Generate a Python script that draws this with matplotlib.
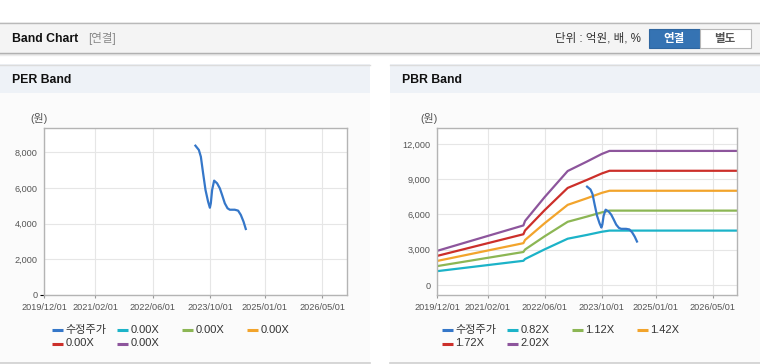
import matplotlib
matplotlib.use('Agg')
import matplotlib.pyplot as plt
import matplotlib.dates as mdates
from matplotlib.patches import Rectangle
import pandas as pd

plt.rcParams['font.family'] = ['Liberation Sans', 'Noto Sans CJK KR', 'DejaVu Sans']

W, H = 760, 364

# adjusted share price (수정주가)
price_dates = ['2023-05-29', '2023-06-27', '2023-07-14', '2023-08-02', '2023-08-22',
               '2023-09-13', '2023-09-28', '2023-10-06', '2023-10-17', '2023-11-03',
               '2023-11-28', '2023-12-21', '2024-01-09', '2024-02-01', '2024-02-24',
               '2024-03-14', '2024-04-25', '2024-05-23', '2024-06-15', '2024-07-08',
               '2024-07-27']
price = [8370, 8130, 7750, 6820, 5890, 5230, 4890, 5140, 5890, 6410,
         6260, 5980, 5610, 5140, 4860, 4780, 4780, 4730, 4490, 4110, 3700]

# PBR band lines
band_dates = ['2019-12-01', '2021-12-03', '2021-12-17', '2022-06-01', '2022-12-15',
              '2023-05-27', '2023-10-01', '2023-12-06', '2026-11-28']
band_082 = [1180, 2060, 2210, 3030, 3940, 4260, 4530, 4630, 4630]
band_112 = [1610, 2810, 3020, 4140, 5380, 5820, 6180, 6330, 6330]
band_142 = [2050, 3560, 3830, 5250, 6820, 7380, 7840, 8020, 8020]
band_172 = [2480, 4320, 4640, 6360, 8260, 8940, 9490, 9720, 9720]
band_202 = [2910, 5070, 5450, 7470, 9700, 10500, 11150, 11410, 11410]

per_labels = ['수정주가', '0.00X', '0.00X', '0.00X', '0.00X', '0.00X']
pbr_labels = ['수정주가', '0.82X', '1.12X', '1.42X', '1.72X', '2.02X']
colors = ['#3577c9', '#1cb3c8', '#8cb654', '#f2a42c', '#cc2f2a', '#8d559c']

x_ticks = ['2019/12/01', '2021/02/01', '2022/06/01', '2023/10/01', '2025/01/01', '2026/05/01']
per_yticks = [0, 2000, 4000, 6000, 8000]
pbr_yticks = [0, 3000, 6000, 9000, 12000]

fig = plt.figure(figsize=(W / 100, H / 100), dpi=100)
bg = fig.add_axes([0, 0, 1, 1])
bg.set_xlim(0, W)
bg.set_ylim(H, 0)
bg.axis('off')


def box(x0, y0, x1, y1, fc, ec='none', lw=0):
    bg.add_patch(Rectangle((x0, y0), x1 - x0, y1 - y0, facecolor=fc, edgecolor=ec, linewidth=lw))


# page header
box(0, 22, W, 53, '#f4f4f4')
bg.plot([0, W], [22.5, 22.5], color='#b9b9b9', lw=1)
bg.plot([0, W], [53, 53], color='#a8a8a8', lw=1)
bg.plot([0, W], [54.2, 54.2], color='#d8d8d8', lw=1)
bg.plot([0, W], [55.3, 55.3], color='#ececec', lw=1)
bg.text(12, 38.5, 'Band Chart', fontsize=8.8, fontweight='bold', color='#111', va='center')
bg.text(88, 38.5, '[연결]', fontsize=8.3, color='#888', va='center')
bg.text(641, 38.5, '단위 : 억원, 배, %', fontsize=8.3, color='#333', va='center', ha='right')
box(648.5, 28.5, 699.5, 47.5, '#3573b3', '#2f66a0', 0.8)
box(699.5, 28.5, 750.5, 47.5, '#ffffff', '#b8b8b8', 0.8)
bg.text(674, 39, '연결', fontsize=8.3, fontweight='bold', color='white', va='center', ha='center')
bg.text(725, 39, '별도', fontsize=8.3, fontweight='bold', color='#555', va='center', ha='center')

# panels
for x0, x1, title in [(0, 370, 'PER Band'), (390, W, 'PBR Band')]:
    box(x0, 64, x1, 363, '#fbfbfb')
    box(x0, 64, x1, 93, '#eef2f7')
    bg.plot([x0, x1], [64.5, 64.5], color='#dcdcdc', lw=1)
    bg.plot([x0, x1], [363, 363], color='#cfcfcf', lw=1.2)
    bg.text(x0 + 12, 80, title, fontsize=8.8, fontweight='bold', color='#111', va='center')
    bg.text(x0 + 30, 118, '(원)', fontsize=7.8, color='#555', va='center')


def style_axes(ax, yticks, ylim):
    ax.set_facecolor('white')
    ax.set_xlim(pd.Timestamp('2019-12-01'), pd.Timestamp('2026-11-28'))
    ax.set_ylim(*ylim)
    ax.set_xticks(pd.to_datetime(x_ticks))
    ax.xaxis.set_major_formatter(mdates.DateFormatter('%Y/%m/%d'))
    ax.set_yticks(yticks)
    ax.set_yticklabels([f'{v:,}' for v in yticks])
    ax.grid(True, color='#e6e6e6', lw=0.8)
    ax.set_axisbelow(True)
    for s in ax.spines.values():
        s.set_color('#b4b4b4')
        s.set_linewidth(1)
    ax.tick_params(axis='x', length=2.5, color='#999', labelsize=6.6, labelcolor='#555', pad=3)
    ax.tick_params(axis='y', length=0, labelsize=6.6, labelcolor='#555', pad=5)


def legend(x0, labels):
    for i, (lab, c) in enumerate(zip(labels, colors)):
        col, row = i % 4, i // 4
        hx = x0 + 52 + col * 65
        y = 330 + row * 13.5
        bg.plot([hx, hx + 11], [y, y], color=c, lw=2.2, solid_capstyle='butt')
        bg.text(hx + 13.5, y, lab, fontsize=8.0, color='#333', va='center')


per = fig.add_axes([44.3 / W, 1 - 295 / H, 302.7 / W, 167 / H])
style_axes(per, per_yticks, (0, 9360))
per.plot(pd.to_datetime(price_dates), price, color=colors[0], lw=1.6)
t0 = per.yaxis.get_major_ticks()[0]
t0.tick1line.set_markersize(3)
t0.tick1line.set_color('#999')
legend(0, per_labels)

pbr = fig.add_axes([437.3 / W, 1 - 295 / H, 300 / W, 167 / H])
style_axes(pbr, pbr_yticks, (-850, 13360))
bd = pd.to_datetime(band_dates)
for vals, c in zip([band_082, band_112, band_142, band_172, band_202], colors[1:]):
    pbr.plot(bd, vals, color=c, lw=1.6)
pbr.plot(pd.to_datetime(price_dates), price, color=colors[0], lw=1.6)
legend(390, pbr_labels)

fig.savefig('out.png', dpi=100)
